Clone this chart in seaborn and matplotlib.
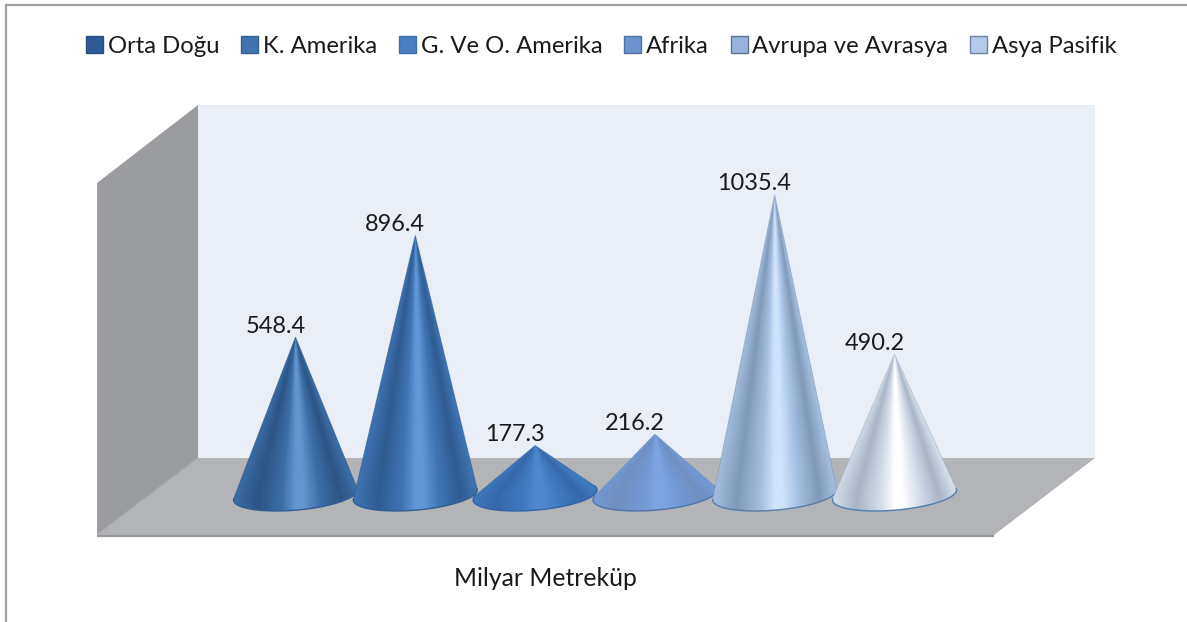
import numpy as np
import pandas as pd
import matplotlib
matplotlib.use("Agg")
import matplotlib.pyplot as plt
from matplotlib.colors import to_rgb
from matplotlib.patches import Patch, Polygon
import seaborn as sns

regions = ["Orta Doğu", "K. Amerika", "G. Ve O. Amerika", "Afrika", "Avrupa ve Avrasya", "Asya Pasifik"]
reserves = [548.4, 896.4, 177.3, 216.2, 1035.4, 490.2]
axis_title = "Milyar Metreküp"

legend_fill = ["#2f5b96", "#4173ae", "#4a80c6", "#6b93d0", "#98b2de", "#b5c9e8"]
legend_edge = ["#2b4f80", "#355f94", "#3f6ea8", "#4f70a0", "#5c7392", "#6f84a3"]
cone_dark = ["#2c5586", "#2f5c92", "#3568a8", "#6f8fc0", "#8099b9", "#a9b4c5"]
cone_mid = ["#3c6ea6", "#3f74b3", "#3f79bd", "#7199d4", "#a5bfe0", "#d5deea"]
cone_bright = ["#6395cf", "#6197d6", "#4f88cc", "#7ca5e2", "#d0e3fc", "#ffffff"]
cone_line = ["#2f5f96", "#2f5f96", "#2f66a8", "#4f74aa", "#5a7ca8", "#4f7fb0"]

WIDTH, HEIGHT = 1187, 622
PX_PER_UNIT = 0.292
BASE_ROW = 497.3
FIRST_COL, COL_STEP = 295.5, 119.8

sns.set_theme(style="white")
plt.rcParams["font.family"] = ["Lato", "DejaVu Sans"]

fig = plt.figure(figsize=(WIDTH / 100, HEIGHT / 100), dpi=100, facecolor="white")

# Room box behind the cones, laid out in pixel coordinates
room = fig.add_axes([0, 0, 1, 1], zorder=0)
room.set_xlim(0, WIDTH)
room.set_ylim(HEIGHT, 0)
room.axis("off")
room.add_patch(Polygon([(198, 105), (1095, 105), (1095, 458), (198, 458)], fc="#e9eef7", ec="none"))
room.add_patch(Polygon([(97, 183), (198, 105), (198, 458), (97, 535)], fc="#9a9c9f", ec="none"))
room.add_patch(Polygon([(97, 535), (198, 458), (1095, 458), (994, 535)], fc="#b3b4b7", ec="none"))
room.plot([97, 994], [535.5, 535.5], color="#97989b", lw=1.6, solid_capstyle="butt")
room.plot([98, 198], [534, 458], color="#a9abae", lw=1)
room.plot([5.5, 5.5, WIDTH], [HEIGHT, 4.5, 4.5], color="#a3a3a3", lw=1.6, solid_joinstyle="miter")

# Value axes sharing the figure area with the room
ax = fig.add_axes([0, 0, 1, 1], zorder=1)
ax.patch.set_visible(False)
table = pd.DataFrame({"bolge": regions, "deger": reserves})
sns.barplot(data=table, x="bolge", y="deger", hue="bolge", hue_order=regions,
            palette=legend_fill, width=1.035, legend=False, ax=ax)
bars = [b for b in ax.patches]
ax.axis("off")

# Light falloff across a cone, from its left edge (-1) to its right edge (+1)
shade_u = [-1.0, -0.6, -0.22, 0.0, 0.13, 0.4, 0.72, 1.0]
shade_level = [1, 0, 1, 2, 2, 1, 0, 1]

MINOR = 15.2 / PX_PER_UNIT
LIFT = 2.3 / PX_PER_UNIT
TILT = 5.0 / PX_PER_UNIT


def shade(u, i):
    levels = np.array([to_rgb(cone_dark[i]), to_rgb(cone_mid[i]), to_rgb(cone_bright[i])])
    stops = levels[shade_level]
    return np.stack([np.interp(u, shade_u, stops[:, c]) for c in range(3)], axis=-1)


for i, bar in enumerate(bars):
    bar.set_visible(False)
    cx = bar.get_x() + bar.get_width() / 2
    a = bar.get_width() / 2
    tip = bar.get_height()

    t = np.linspace(0, 2 * np.pi, 721)[:-1]
    ex = cx + a * np.cos(t)
    ey = LIFT + MINOR * np.sin(t) + TILT * np.cos(t)
    slope = (ex - cx) / (tip - ey)
    left, right = int(np.argmin(slope)), int(np.argmax(slope))
    # Lower arc of the base, walking from the left tangent point to the right one
    idx = (left + np.arange(len(t))) % len(t)
    stop = int(np.where(idx == right)[0][0])
    arc = idx[: stop + 1]
    outline = np.vstack([[cx, tip], np.column_stack([ex[arc], ey[arc]])])

    xs = np.linspace(cx - a * 1.02, cx + a * 1.02, 320)
    ys = np.linspace(ey.min() - 5, tip + 5, 480)
    gx, gy = np.meshgrid(xs, ys)
    depth = np.clip((tip - gy) / (tip - LIFT), 0.015, 1.0)
    rgb = shade(np.clip((gx - cx) / (a * depth), -1, 1), i)

    clip = Polygon(outline, closed=True, transform=ax.transData, fc="none", ec="none")
    ax.add_patch(clip)
    img = ax.imshow(rgb, origin="lower", aspect="auto", interpolation="bilinear",
                    extent=(xs[0], xs[-1], ys[0], ys[-1]), zorder=2 + i)
    img.set_clip_path(clip)
    ax.plot(ex[arc], ey[arc], color=cone_line[i], lw=1.0, zorder=2 + i)
    ax.plot([ex[left], cx, ex[right]], [ey[left], tip, ey[right]], color=cone_dark[i],
            lw=0.7, alpha=0.6, zorder=2 + i)
    ax.annotate(f"{reserves[i]:.1f}", xy=(cx, tip), xytext=(-14.5, 8), textcoords="offset points",
                ha="center", va="center", fontsize=16.9, color="#1a1a1a", zorder=20)

ax.set_xlim(-FIRST_COL / COL_STEP, (WIDTH - FIRST_COL) / COL_STEP)
ax.set_ylim(-(HEIGHT - BASE_ROW) / PX_PER_UNIT, BASE_ROW / PX_PER_UNIT)

handles = [Patch(facecolor=f, edgecolor=e, linewidth=1.0) for f, e in zip(legend_fill, legend_edge)]
fig.legend(handles, regions, ncol=6, frameon=False, loc="upper left",
           bbox_to_anchor=(86 / WIDTH, 1 - 36 / HEIGHT), borderaxespad=0, borderpad=0,
           fontsize=17.2, handlelength=0.7, handleheight=0.7, handletextpad=0.2,
           columnspacing=0.93, labelcolor="#1a1a1a")

fig.text(545 / WIDTH, 1 - 579 / HEIGHT, axis_title, ha="center", va="center",
         fontsize=17.8, color="#1a1a1a")

fig.savefig("out.png", dpi=100, facecolor="white")
